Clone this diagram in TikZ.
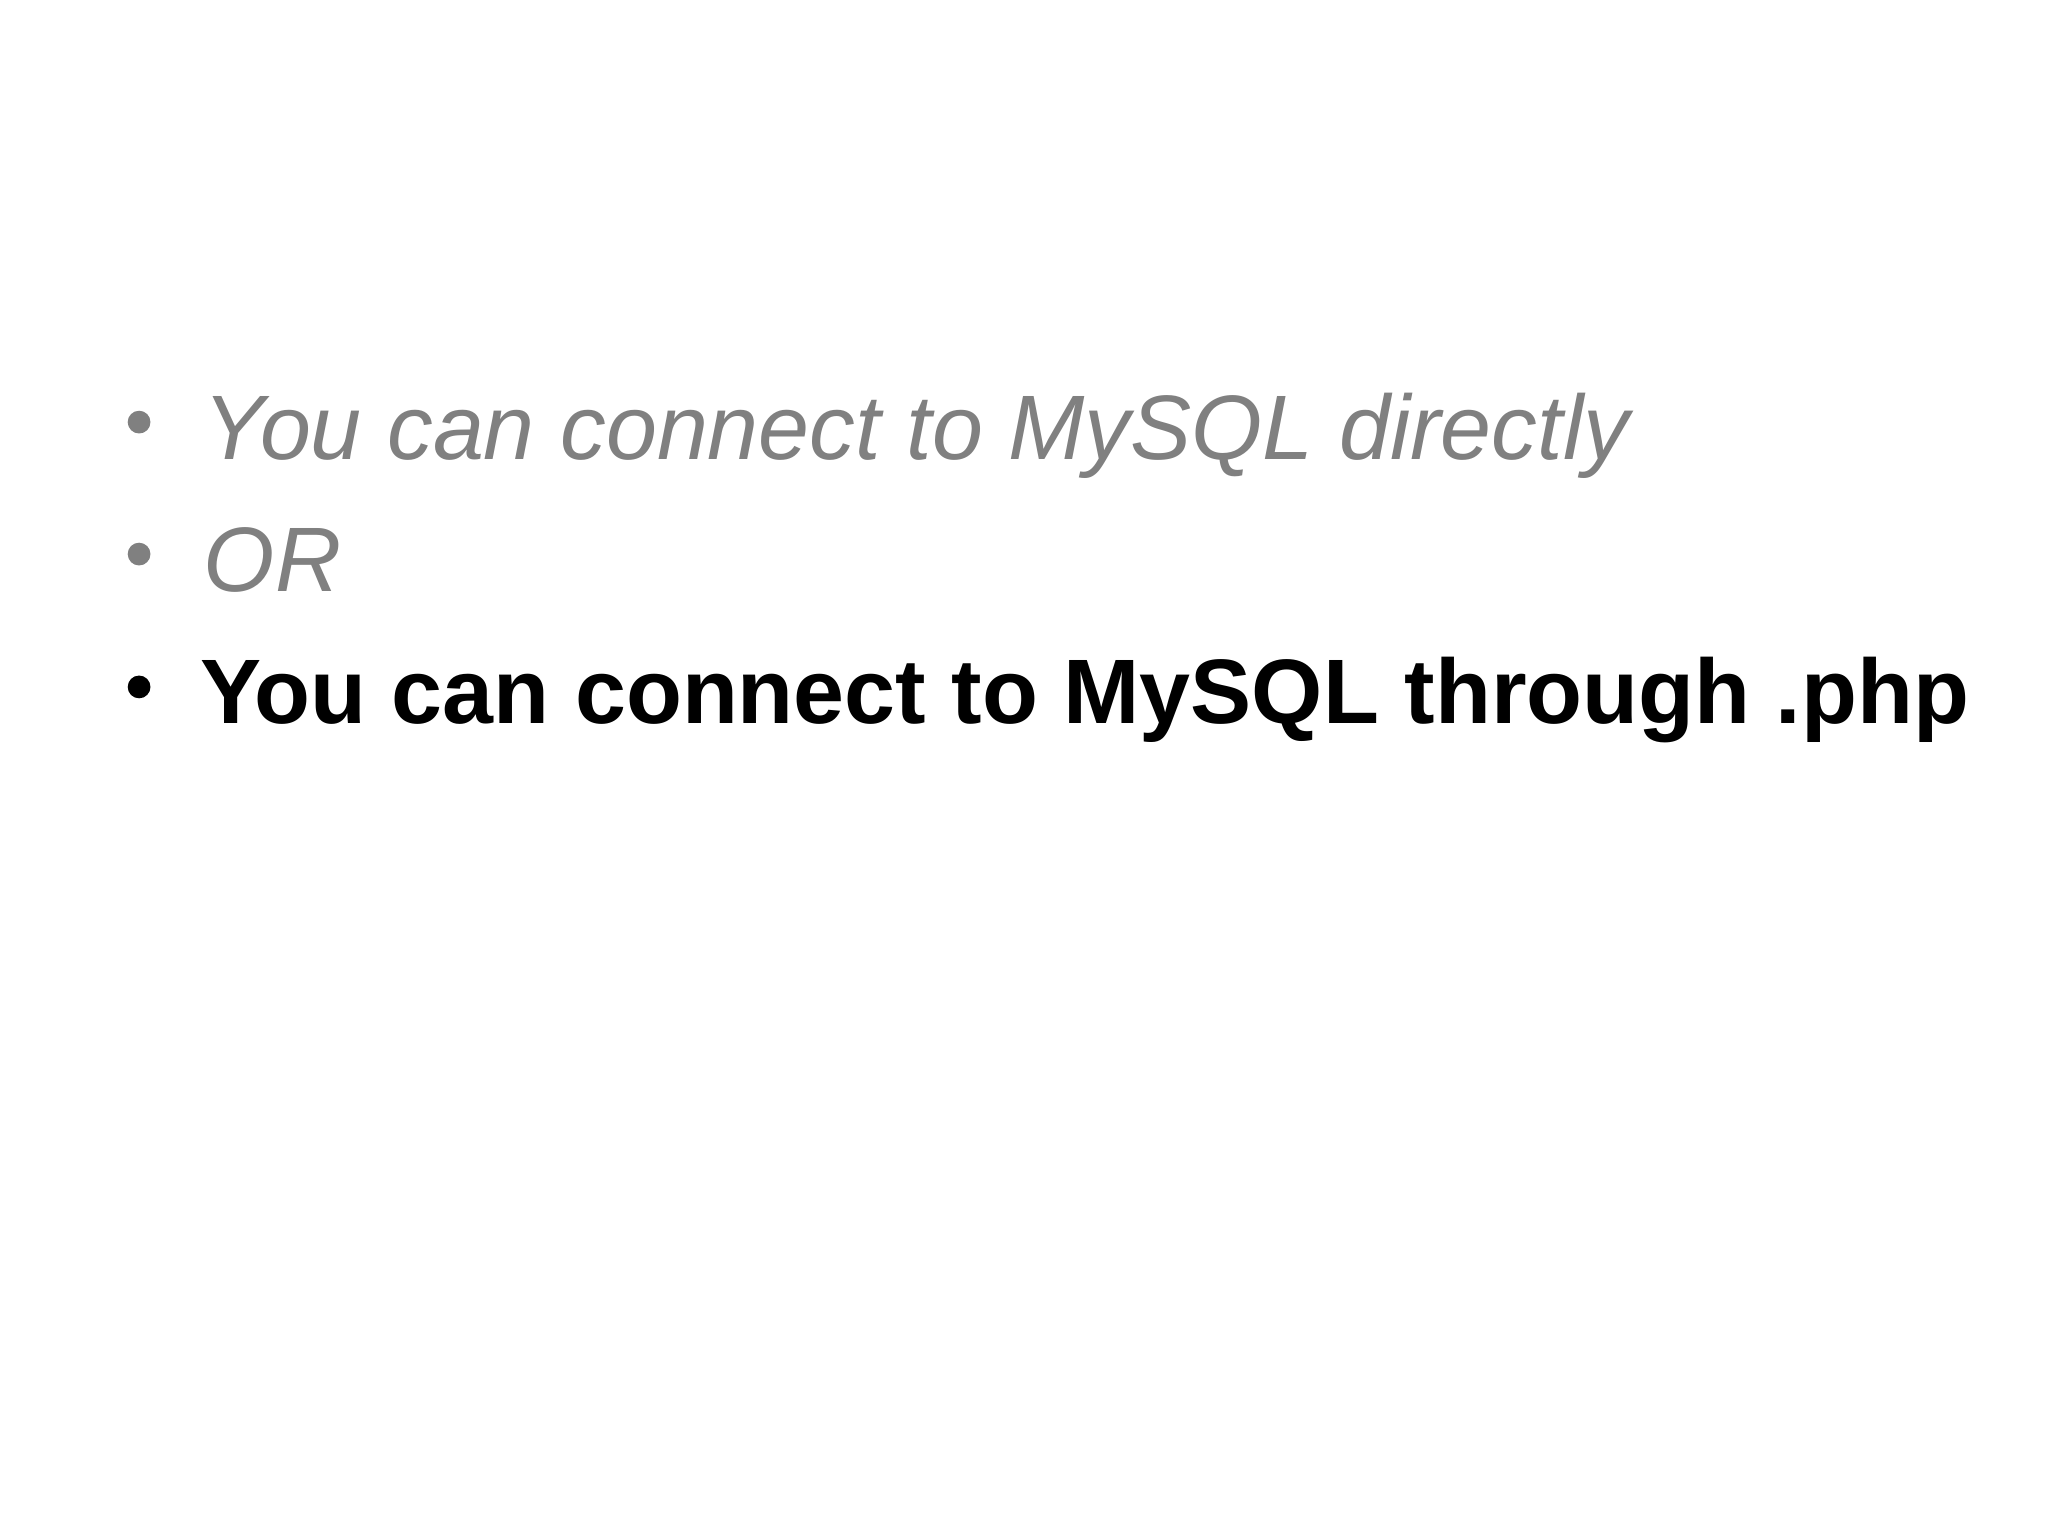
\documentclass[tikz,border=0pt]{standalone}
\usepackage{fontspec}
\setmainfont{Liberation Sans}
\definecolor{dimgray}{HTML}{808080}
\tikzset{
  itemtext/.style={anchor=base west, inner sep=0pt, font=\fontsize{32.2}{38}\selectfont},
  bulletdot/.style={circle, inner sep=0pt, minimum size=8pt},
}
\begin{document}
\begin{tikzpicture}[x=1pt,y=-1pt]
\useasboundingbox[fill=white] (0,0) rectangle (720,540);
\node[bulletdot, fill=dimgray] (b1) at (48.9,148.4) {};
\node[itemtext, text=dimgray] (t1) at (71.5,161.4) {\itshape You can connect to MySQL directly};
\node[bulletdot, fill=dimgray] (b2) at (48.9,194.8) {};
\node[itemtext, text=dimgray] (t2) at (71.5,207.8) {\itshape OR};
\node[bulletdot, fill=black] (b3) at (48.9,241.5) {};
\node[itemtext, text=black] (t3) at (70.2,254.2) {\bfseries You can connect to MySQL through .php};
\end{tikzpicture}
\end{document}
